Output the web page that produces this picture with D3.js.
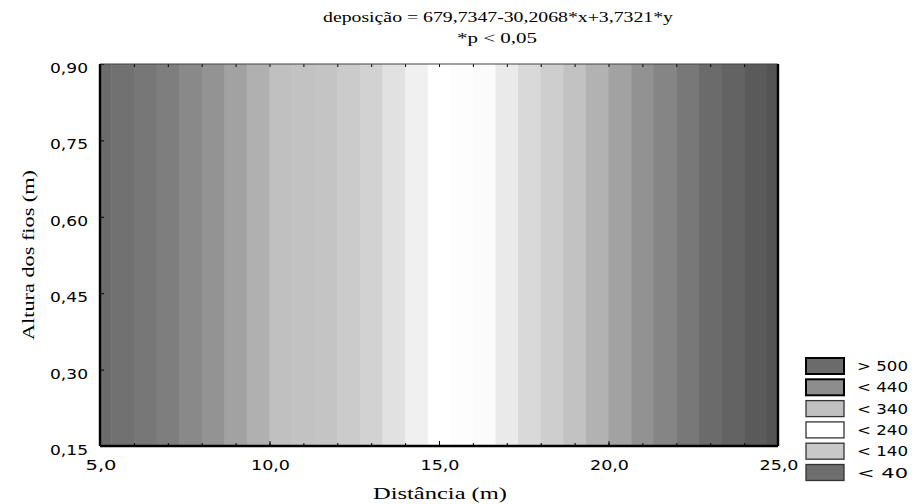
<!DOCTYPE html>
<html>
<head>
<meta charset="utf-8">
<script src="https://cdn.jsdelivr.net/npm/d3@7"></script>
<style>
  body { margin: 0; background: #fff; }
  svg { display: block; }
</style>
</head>
<body>
<svg id="chart"></svg>
<script>
// x edges of the shaded bands (Distância, m) and the deposição level of each band
const bandEdges = [5.0, 5.33, 6.0, 6.67, 7.33, 8.0, 8.67, 9.33, 10.0, 10.67, 11.33, 12.0, 12.67,
  13.33, 14.0, 14.67, 15.33, 16.0, 16.67, 17.33, 18.0, 18.67, 19.33, 20.0, 20.67, 21.33, 22.0,
  22.67, 23.33, 24.0, 24.67, 25.0];
const bandValues = [525, 510, 490, 470, 450, 430, 410, 390, 370, 350, 330, 310, 290, 270, 250,
  230, 210, 190, 170, 150, 130, 110, 90, 70, 50, 30, 10, -10, -30, -50, -65];

// grey level used for a deposição value
const shadeStops = [-70, -10, 50, 110, 150, 190, 230, 250, 290, 330, 370, 390, 430, 470, 530];
const shadeGray = [82, 107, 146, 194, 217, 251, 255, 240, 210, 196, 192, 176, 147, 126, 106];

const xTicks = [5, 10, 15, 20, 25];
const yTicks = [0.15, 0.30, 0.45, 0.60, 0.75, 0.90];

const legendLabels = ["> 500", "< 440", "< 340", "< 240", "< 140", "< 40"];
const legendColors = ["#6b6b6b", "#8d8d8d", "#c0c0c0", "#ffffff", "#c8c8c8", "#6e6e6e"];

const width = 912, height = 504;
const margin = { top: 64, right: 134, bottom: 58, left: 100 };

const svg = d3.select("#chart").attr("width", width).attr("height", height);

const x = d3.scaleLinear().domain([5, 25]).range([margin.left, width - margin.right]);
const y = d3.scaleLinear().domain([0.15, 0.90]).range([height - margin.bottom, margin.top]);
const shade = d3.scaleLinear().domain(shadeStops).range(shadeGray).clamp(true);

const locale = d3.formatLocale({ decimal: ",", thousands: ".", grouping: [3], currency: ["", ""] });
const fmtX = locale.format(".1f");
const fmtY = locale.format(".2f");

// bands
const bands = bandValues.map((v, i) => ({ x0: bandEdges[i], x1: bandEdges[i + 1], v: v }));
svg.append("g")
  .selectAll("rect")
  .data(bands)
  .enter()
  .append("rect")
  .attr("x", d => x(d.x0))
  .attr("y", y(0.90))
  .attr("width", d => x(d.x1) - x(d.x0) + 0.5)
  .attr("height", y(0.15) - y(0.90))
  .attr("fill", d => { const g = Math.round(shade(d.v)); return d3.rgb(g, g, g); });

// minor ticks inside the frame
const minor = d3.range(6, 25);
svg.append("g")
  .attr("transform", "translate(0," + y(0.15) + ")")
  .call(d3.axisTop(x).tickValues(minor).tickSize(3).tickFormat(""))
  .call(g => g.select(".domain").remove());
svg.append("g")
  .attr("transform", "translate(0," + y(0.90) + ")")
  .call(d3.axisBottom(x).tickValues(minor).tickSize(3).tickFormat(""))
  .call(g => g.select(".domain").remove());

// x axis
const xAxis = svg.append("g")
  .attr("transform", "translate(0," + y(0.15) + ")")
  .call(d3.axisTop(x).tickValues(xTicks).tickSize(5).tickFormat(""));
xAxis.select(".domain").remove();
svg.append("g")
  .attr("transform", "translate(0," + y(0.15) + ")")
  .selectAll("text")
  .data(xTicks)
  .enter()
  .append("text")
  .attr("x", d => x(d) + 1)
  .attr("y", 24)
  .attr("text-anchor", "middle")
  .attr("font-family", "DejaVu Sans")
  .attr("font-size", 13.5)
  .attr("textLength", d => d < 10 ? 31 : 39)
  .attr("lengthAdjust", "spacingAndGlyphs")
  .text(d => fmtX(d));

// y axis
const yAxis = svg.append("g")
  .attr("transform", "translate(" + margin.left + ",0)")
  .call(d3.axisRight(y).tickValues(yTicks).tickSize(4).tickFormat(""));
yAxis.select(".domain").remove();
svg.append("g")
  .selectAll("text")
  .data(yTicks)
  .enter()
  .append("text")
  .attr("x", margin.left - 12)
  .attr("y", d => y(d) + 9)
  .attr("text-anchor", "end")
  .attr("font-family", "DejaVu Sans")
  .attr("font-size", 13.5)
  .attr("textLength", 38)
  .attr("lengthAdjust", "spacingAndGlyphs")
  .text(d => fmtY(d));

// frame
const x0 = x(5), x1 = x(25), y0 = y(0.90), y1 = y(0.15);
svg.append("line").attr("x1", x0).attr("x2", x1).attr("y1", y0).attr("y2", y0)
  .attr("stroke", "#444").attr("stroke-width", 1.2);
svg.append("line").attr("x1", x0).attr("x2", x1).attr("y1", y1).attr("y2", y1)
  .attr("stroke", "#000").attr("stroke-width", 2.4);
svg.append("line").attr("x1", x0).attr("x2", x0).attr("y1", y0).attr("y2", y1)
  .attr("stroke", "#000").attr("stroke-width", 2.4);
svg.append("line").attr("x1", x1).attr("x2", x1).attr("y1", y0).attr("y2", y1)
  .attr("stroke", "#000").attr("stroke-width", 2.4);

// titles
svg.append("text")
  .attr("x", 498).attr("y", 22)
  .attr("text-anchor", "middle")
  .attr("font-family", "Liberation Serif")
  .attr("font-size", 15)
  .attr("textLength", 350)
  .attr("lengthAdjust", "spacingAndGlyphs")
  .text("deposição = 679,7347-30,2068*x+3,7321*y");
svg.append("text")
  .attr("x", 497).attr("y", 43)
  .attr("text-anchor", "middle")
  .attr("font-family", "Liberation Serif")
  .attr("font-size", 15)
  .attr("textLength", 80)
  .attr("lengthAdjust", "spacingAndGlyphs")
  .text("*p < 0,05");

svg.append("text")
  .attr("x", 440).attr("y", 499)
  .attr("text-anchor", "middle")
  .attr("font-family", "Liberation Serif")
  .attr("font-size", 16)
  .attr("textLength", 134)
  .attr("lengthAdjust", "spacingAndGlyphs")
  .text("Distância (m)");

svg.append("text")
  .attr("transform", "translate(34,255) rotate(-90)")
  .attr("text-anchor", "middle")
  .attr("font-family", "Liberation Serif")
  .attr("font-size", 16)
  .attr("textLength", 170)
  .attr("lengthAdjust", "spacingAndGlyphs")
  .text("Altura dos fios (m)");

// legend
const legend = svg.append("g").attr("transform", "translate(806,358)");
const item = legend.selectAll("g")
  .data(legendLabels)
  .enter()
  .append("g")
  .attr("transform", (d, i) => "translate(0," + i * 21.3 + ")");
item.append("rect")
  .attr("width", 38).attr("height", 16)
  .attr("fill", (d, i) => legendColors[i])
  .attr("stroke", (d, i) => i < 2 ? "#000" : "#333")
  .attr("stroke-width", (d, i) => i < 2 ? 2 : 1.3);
item.append("text")
  .attr("x", 51).attr("y", 13)
  .attr("font-family", "DejaVu Sans")
  .attr("font-size", 13.5)
  .attr("textLength", 51)
  .attr("lengthAdjust", "spacingAndGlyphs")
  .text(d => d);
</script>
</body>
</html>
